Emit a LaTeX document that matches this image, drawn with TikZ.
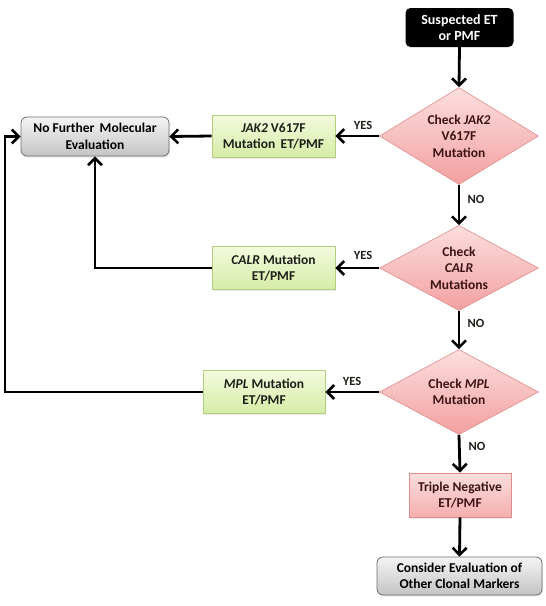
\documentclass[tikz,border=0pt]{standalone}
\usepackage{fontspec}
\setmainfont{Carlito}
\usetikzlibrary{shapes.geometric,arrows.meta,shadows}
\definecolor{dtxt}{RGB}{60,20,20}
\definecolor{gtxt}{RGB}{30,30,25}
\definecolor{pinktop}{RGB}{252,222,222}
\definecolor{pinkbot}{RGB}{243,160,160}
\definecolor{pinkbd}{RGB}{225,140,140}
\definecolor{greentop}{RGB}{243,250,222}
\definecolor{greenbot}{RGB}{214,236,166}
\definecolor{greenbd}{RGB}{176,206,128}
\definecolor{graytop}{RGB}{244,244,244}
\definecolor{graybot}{RGB}{196,196,196}
\definecolor{graybd}{RGB}{110,110,110}
\tikzset{
  every node/.style={font=\bfseries\fontsize{13.5}{16.5}\selectfont, align=center},
  blackbox/.style={fill=black, text=white, rounded corners=5pt, minimum width=108pt, minimum height=39pt, inner sep=0pt, font=\bfseries\fontsize{14}{17}\selectfont},
  graybox/.style={draw=graybd, line width=0.8pt, top color=graytop, bottom color=graybot, rounded corners=6pt, text=black, inner sep=0pt, drop shadow={opacity=0.2, shadow xshift=1pt, shadow yshift=-1.5pt}},
  greenbox/.style={draw=greenbd, line width=0.8pt, top color=greentop, bottom color=greenbot, text=gtxt, inner sep=0pt, drop shadow={opacity=0.15, shadow xshift=1pt, shadow yshift=-1.5pt}},
  pinkbox/.style={draw=pinkbd, line width=0.8pt, top color=pinktop, bottom color=pinkbot!85, text=dtxt, inner sep=0pt, drop shadow={opacity=0.15, shadow xshift=1pt, shadow yshift=-1.5pt}},
  dia/.style={diamond, draw=pinkbd, line width=0.6pt, top color=pinktop, bottom color=pinkbot, inner sep=0pt, minimum width=159pt},
  diatext/.style={text=dtxt, inner sep=0pt},
  lbl/.style={font=\bfseries\fontsize{12.5}{14}\selectfont, text=gtxt, inner sep=0pt},
  arr/.style={line width=2.8pt, -{Straight Barb[length=7pt, width=14pt, line width=2.6pt]}, black},
  x=1pt, y=-1pt
}
\begin{document}
\begin{tikzpicture}
\useasboundingbox (0,0) rectangle (546,606);
% nodes
\node[blackbox] (start) at (459.5,27.5) {Suspected ET\\[-1pt] or PMF};
\node[dia, minimum height=97pt] (d1) at (459,136) {};
\node[diatext] (d1t) at (d1) {Check \textit{JAK2}\\ V617F\\ Mutation};
\node[dia, minimum height=85pt] (d2) at (459,268) {};
\node[diatext] (d2t) at (d2) {Check\\ \textit{CALR}\\ Mutations};
\node[dia, minimum height=85pt] (d3) at (459,392) {};
\node[diatext] (d3t) at (d3) {Check \textit{MPL}\\ Mutation};
\node[greenbox, minimum width=123pt, minimum height=42pt] (jak) at (273.5,136) {\textit{JAK2} V617F\\ Mutation\ \,ET/PMF};
\node[greenbox, minimum width=123pt, minimum height=43pt] (calr) at (273.5,268) {\textit{CALR} Mutation\\ ET/PMF};
\node[greenbox, minimum width=122pt, minimum height=43pt] (mpl) at (264,392) {\textit{MPL} Mutation\\ ET/PMF};
\node[graybox, minimum width=148pt, minimum height=39pt] (nf) at (95,136.5) {No Further\ \,Molecular\\ Evaluation};
\node[pinkbox, minimum width=102pt, minimum height=44pt] (tn) at (460,495) {Triple Negative\\ ET/PMF};
\node[graybox, minimum width=165pt, minimum height=38pt] (oc) at (459.5,576) {Consider Evaluation of\\ Other Clonal Markers};
\coordinate (lft) at (5,392);
% labels
\node[lbl] (y1) at (363,125) {YES};
\node[lbl] (y2) at (363,255) {YES};
\node[lbl] (y3) at (352,381) {YES};
\node[lbl] (n1) at (476,199) {NO};
\node[lbl] (n2) at (476,323) {NO};
\node[lbl] (n3) at (477,446) {NO};
% connectors
\draw[arr] (start.south) -- (d1.north);
\draw[arr] (d1.west) -- (jak.east);
\draw[arr] (jak.west) -- (nf.east);
\draw[arr] (d1.south) -- (d2.north);
\draw[arr] (d2.west) -- (calr.east);
\draw[arr] (calr.west) -| (nf.south);
\draw[arr] (d2.south) -- (d3.north);
\draw[arr] (d3.west) -- (mpl.east);
\draw[arr] (mpl.west) -- (lft) |- (nf.west);
\draw[arr] (d3.south) -- (tn.north);
\draw[arr] (tn.south) -- (oc.north);
\end{tikzpicture}
\end{document}
